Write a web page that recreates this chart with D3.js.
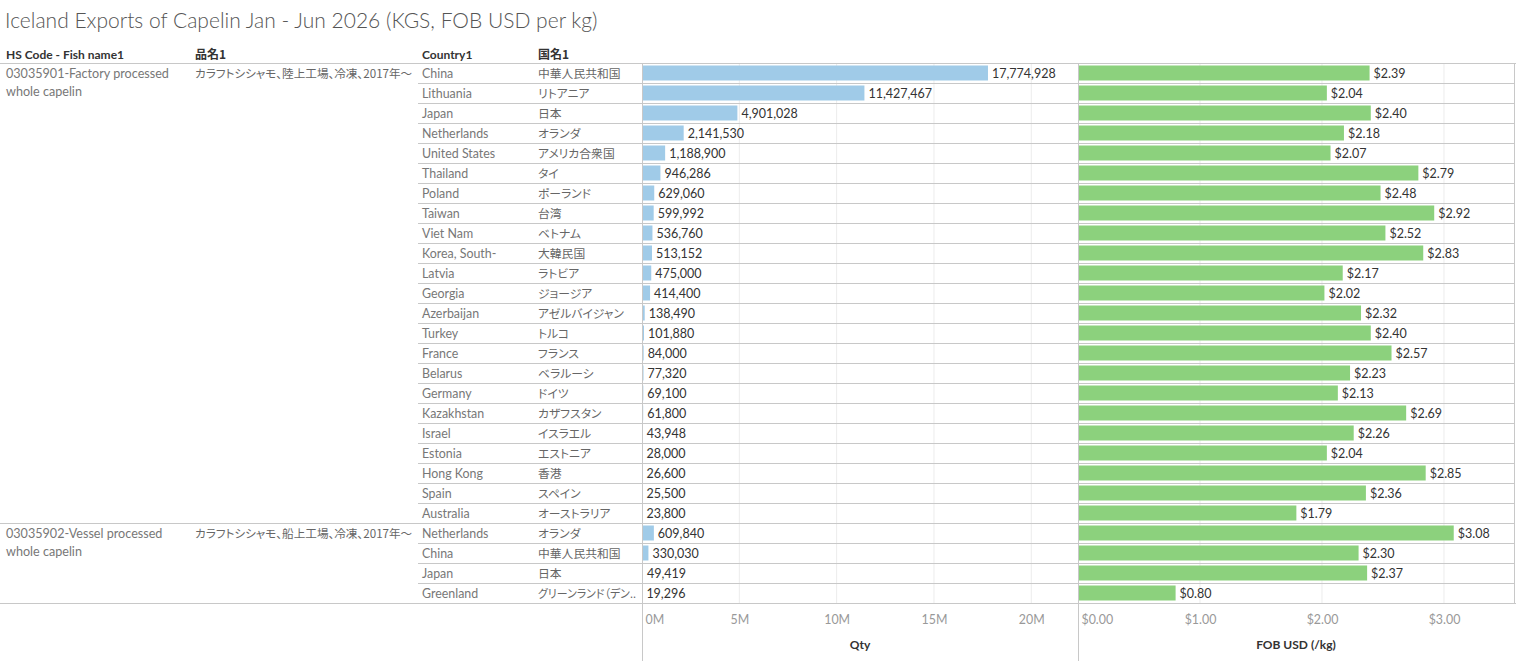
<!DOCTYPE html>
<html>
<head>
<meta charset="utf-8">
<script src="https://cdn.jsdelivr.net/npm/d3@7"></script>
<style>
  html, body { margin: 0; padding: 0; background: #fff; }
  svg { display: block; }
  text { font-family: Lato, "Noto Sans CJK JP", sans-serif; }
  .ja { font-family: "Noto Sans CJK JP", Lato, sans-serif; font-feature-settings: "palt"; }
</style>
</head>
<body>
<svg id="chart" width="1516" height="661"></svg>
<script>
// ---------------- DATA ----------------
const title = "Iceland Exports of Capelin Jan - Jun 2026 (KGS, FOB USD per kg)";
const headers = ["HS Code - Fish name1", "品名1", "Country1", "国名1"];

const hsCodes = ["03035901-Factory processed|whole capelin", "03035902-Vessel processed|whole capelin"];
const hsNamesJa = ["カラフトシシャモ、陸上工場、冷凍、2017年〜", "カラフトシシャモ、船上工場、冷凍、2017年〜"];

const groupIndex = [0,0,0,0,0,0,0,0,0,0,0,0,0,0,0,0,0,0,0,0,0,0,0, 1,1,1,1];
const countries = ["China","Lithuania","Japan","Netherlands","United States","Thailand","Poland","Taiwan","Viet Nam","Korea, South-","Latvia","Georgia","Azerbaijan","Turkey","France","Belarus","Germany","Kazakhstan","Israel","Estonia","Hong Kong","Spain","Australia",
                   "Netherlands","China","Japan","Greenland"];
const countriesJa = ["中華人民共和国","リトアニア","日本","オランダ","アメリカ合衆国","タイ","ポーランド","台湾","ベトナム","大韓民国","ラトビア","ジョージア","アゼルバイジャン","トルコ","フランス","ベラルーシ","ドイツ","カザフスタン","イスラエル","エストニア","香港","スペイン","オーストラリア",
                     "オランダ","中華人民共和国","日本","グリーンランド（デン.."];
const qty = [17774928,11427467,4901028,2141530,1188900,946286,629060,599992,536760,513152,475000,414400,138490,101880,84000,77320,69100,61800,43948,28000,26600,25500,23800,
             609840,330030,49419,19296];
const fob = [2.39,2.04,2.40,2.18,2.07,2.79,2.48,2.92,2.52,2.83,2.17,2.02,2.32,2.40,2.57,2.23,2.13,2.69,2.26,2.04,2.85,2.36,1.79,
             3.08,2.30,2.37,0.80];

const qtyTicks = [0, 5e6, 10e6, 15e6, 20e6];
const qtyTickLabels = ["0M","5M","10M","15M","20M"];
const fobTicks = [0, 1, 2, 3];
const fobTickLabels = ["$0.00","$1.00","$2.00","$3.00"];
const axisTitles = ["Qty", "FOB USD (/kg)"];

// ---------------- LAYOUT ----------------
const W = 1516, H = 661;
const topY = 63, rowH = 20;
const n = countries.length;
const bottomY = topY + n * rowH;
const colX = { hs: 6, hsJa: 195, country: 422, countryJa: 538 };
const rowLineX0 = 418;
const qtyX0 = 642, qtyX1 = 1078;
const fobX0 = 1078, fobX1 = 1514;

const svg = d3.select("#chart");

const y = d3.scaleBand().domain(d3.range(n)).range([topY, bottomY]).paddingInner(0.25).paddingOuter(0.125);
const xQ = d3.scaleLinear().domain([0, 22.4e6]).range([qtyX0, qtyX1]);
const xF = d3.scaleLinear().domain([0, 3.574]).range([fobX0, fobX1]);

const lineCol = "#c8c8c8", gridCol = "#ececec";

// title
svg.append("text").attr("x", 5).attr("y", 28).attr("font-size", 21).attr("font-weight", 300)
  .attr("fill", "#555").text(title);

// headers
const hdrX = [colX.hs, colX.hsJa, colX.country, colX.countryJa];
headers.forEach((h, i) => {
  svg.append("text").attr("x", hdrX[i]).attr("y", 55).attr("dy", "0.35em")
    .attr("font-size", 12).attr("font-weight", 700).attr("fill", "#333")
    .attr("class", /[^\x00-\x7F]/.test(h) ? "ja" : null).text(h);
});

// gridlines
svg.append("g").selectAll("line").data(qtyTicks.slice(1)).join("line")
  .attr("x1", d => xQ(d)).attr("x2", d => xQ(d)).attr("y1", topY).attr("y2", bottomY)
  .attr("stroke", gridCol);
svg.append("g").selectAll("line").data(fobTicks.slice(1)).join("line")
  .attr("x1", d => xF(d)).attr("x2", d => xF(d)).attr("y1", topY).attr("y2", bottomY)
  .attr("stroke", gridCol);

// row separators
svg.append("g").selectAll("line").data(d3.range(1, n)).join("line")
  .attr("x1", i => groupIndex[i] !== groupIndex[i-1] ? 0 : rowLineX0).attr("x2", fobX1)
  .attr("y1", i => topY + i * rowH + 0.5).attr("y2", i => topY + i * rowH + 0.5)
  .attr("stroke", lineCol);
// header line & bottom line
svg.append("line").attr("x1", 0).attr("x2", W).attr("y1", topY + 0.5).attr("y2", topY + 0.5).attr("stroke", lineCol);
svg.append("line").attr("x1", 0).attr("x2", W).attr("y1", bottomY + 0.5).attr("y2", bottomY + 0.5).attr("stroke", lineCol);
// vertical lines
svg.append("line").attr("x1", qtyX0 + 0.5).attr("x2", qtyX0 + 0.5).attr("y1", topY).attr("y2", H).attr("stroke", lineCol);
svg.append("line").attr("x1", fobX0 + 0.5).attr("x2", fobX0 + 0.5).attr("y1", topY).attr("y2", H).attr("stroke", lineCol);
svg.append("line").attr("x1", fobX1 + 0.5).attr("x2", fobX1 + 0.5).attr("y1", topY).attr("y2", bottomY).attr("stroke", lineCol);

// group labels
const groupStart = hsCodes.map((_, g) => groupIndex.indexOf(g));
hsCodes.forEach((code, g) => {
  const r = groupStart[g];
  const lines = code.split("|");
  lines.forEach((ln, k) => {
    svg.append("text").attr("x", colX.hs).attr("y", topY + r * rowH + 11 + k * 18).attr("dy", "0.35em")
      .attr("font-size", 12.6).attr("fill", "#777").text(ln);
  });
  svg.append("text").attr("class", "ja").attr("x", colX.hsJa).attr("y", topY + r * rowH + 11).attr("dy", "0.35em")
    .attr("font-size", 11.6).attr("fill", "#666").text(hsNamesJa[g]);
});

// country labels
const rows = svg.append("g");
rows.selectAll("text.c").data(countries).join("text").attr("class", "c")
  .attr("x", colX.country).attr("y", (d, i) => topY + i * rowH + 11).attr("dy", "0.35em")
  .attr("font-size", 12.4).attr("fill", "#777").text(d => d);
rows.selectAll("text.cj").data(countriesJa).join("text").attr("class", "cj ja")
  .attr("x", colX.countryJa).attr("y", (d, i) => topY + i * rowH + 11).attr("dy", "0.35em")
  .attr("font-size", 11.8).attr("fill", "#666").text(d => d)
  .each(function () {
    // keep truncated labels inside their column, like the reference
    const maxW = qtyX0 - colX.countryJa - 6;
    if (this.getComputedTextLength() > maxW) d3.select(this).attr("textLength", maxW).attr("lengthAdjust", "spacingAndGlyphs");
  });

// qty bars
const fmtInt = d3.format(",");
svg.append("g").selectAll("rect").data(qty).join("rect")
  .attr("x", xQ(0) + 1).attr("y", (d, i) => y(i)).attr("height", y.bandwidth())
  .attr("width", d => Math.max(0, xQ(d) - xQ(0) - 1)).attr("fill", "#a0cbe8");
svg.append("g").selectAll("text").data(qty).join("text")
  .attr("x", d => xQ(d) + 4).attr("y", (d, i) => y(i) + y.bandwidth() / 2 + 0.5).attr("dy", "0.35em")
  .attr("font-size", 12.5).attr("fill", "#333").text(d => fmtInt(d));

// fob bars
const fmtUsd = d3.format("$.2f");
svg.append("g").selectAll("rect").data(fob).join("rect")
  .attr("x", xF(0) + 1).attr("y", (d, i) => y(i)).attr("height", y.bandwidth())
  .attr("width", d => xF(d) - xF(0) - 1).attr("fill", "#8cd17d");
svg.append("g").selectAll("text").data(fob).join("text")
  .attr("x", d => xF(d) + 4).attr("y", (d, i) => y(i) + y.bandwidth() / 2 + 0.5).attr("dy", "0.35em")
  .attr("font-size", 12.5).attr("fill", "#333").text(d => fmtUsd(d));

// axes
function drawAxis(scale, ticks, labels, x0, x1, titleText) {
  const g = svg.append("g");
  const axis = d3.axisBottom(scale).tickValues(ticks).tickFormat((d, i) => labels[i]).tickSize(0).tickPadding(0);
  g.attr("transform", `translate(0, 620)`).call(axis);
  g.select(".domain").remove();
  g.selectAll(".tick text").attr("dy", "0.35em").attr("y", 0)
    .attr("font-family", "Lato, sans-serif").attr("font-size", 12.4).attr("fill", "#999")
    .attr("text-anchor", (d, i) => i === 0 ? "start" : "middle")
    .attr("x", (d, i) => i === 0 ? 3 : 0);
  svg.append("text").attr("x", (x0 + x1) / 2).attr("y", 645).attr("dy", "0.35em")
    .attr("text-anchor", "middle").attr("font-size", 12).attr("font-weight", 700).attr("fill", "#333").text(titleText);
}
drawAxis(xQ, qtyTicks, qtyTickLabels, qtyX0, qtyX1, axisTitles[0]);
drawAxis(xF, fobTicks, fobTickLabels, fobX0, fobX1, axisTitles[1]);
</script>
</body>
</html>
